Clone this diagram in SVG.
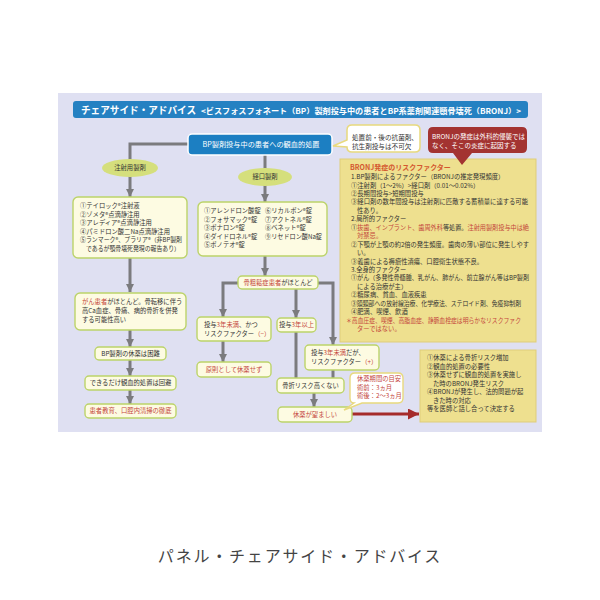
<svg xmlns="http://www.w3.org/2000/svg" width="600" height="600" viewBox="0 0 600 600">
<style>
text{font-family:"Noto Sans CJK JP","Noto Sans",sans-serif;fill:#333;font-size:6.3px}
.bx{fill:#fdfbe2;stroke:#bcd36a;stroke-width:1.4}
.yb{fill:#eee08f;stroke:#dfcd7a;stroke-width:1}
.el{fill:#d5df7c}
.c{fill:none;stroke:#7b7b7e;stroke-width:3}
.ca{fill:none;stroke:#7b7b7e;stroke-width:3;marker-end:url(#ah)}
.r{fill:#c4463c}
.w{fill:#fff}
.m{text-anchor:middle}
</style>
<defs>
<marker id="ah" markerUnits="userSpaceOnUse" markerWidth="9" markerHeight="8" viewBox="0 0 10 10" refX="10" refY="5" orient="auto"><path d="M0,0L10,5L0,10z" fill="#7b7b7e"/></marker>
<marker id="rah" markerUnits="userSpaceOnUse" markerWidth="11" markerHeight="11" viewBox="0 0 10 10" refX="10" refY="5" orient="auto"><path d="M0,0L10,5L0,10z" fill="#a52b2b"/></marker>
</defs>
<rect x="0" y="0" width="600" height="600" fill="#fff"/>
<rect x="58" y="93" width="484" height="339" fill="#dfe0f2"/>
<g id="title">
<rect x="73" y="101" width="455" height="17" rx="3" fill="#2581c2"/>
<text x="81" y="114" style="font-size:10px;font-weight:bold" class="w" textLength="115" lengthAdjust="spacingAndGlyphs">チェアサイド・アドバイス</text>
<text x="201" y="113.5" style="font-size:7.6px;font-weight:bold" class="w" textLength="320" lengthAdjust="spacingAndGlyphs">&lt;ビスフォスフォネート（BP）製剤投与中の患者とBP系薬剤関連顎骨壊死（BRONJ）&gt;</text>
</g>
<g id="connectors">
<path class="ca" d="M188,144H130V197"/>
<path class="ca" d="M265,155V202"/>
<path class="ca" d="M130,258V292"/>
<path class="ca" d="M130,330V347"/>
<path class="ca" d="M130,360V376"/>
<path class="ca" d="M130,390V404"/>
<path class="ca" d="M265,256V276"/>
<path class="ca" d="M238,283H223V317"/>
<path class="ca" d="M296,289V318"/>
<path class="ca" d="M318,283H333V345"/>
<path class="ca" d="M223,341V362"/>
<path class="c" d="M296,332V378"/>
<path class="c" d="M333,370V378"/>
<path class="ca" d="M314,393V407"/>
<path d="M352,414H419" fill="none" stroke="#a52b2b" stroke-width="3" marker-end="url(#rah)"/>
</g>
<g id="top">
<rect x="188" y="134" width="144" height="21" rx="4" fill="#1c7fc2" stroke="#fff" stroke-width="1.5"/>
<text x="261" y="147" class="w m" style="font-size:7.2px">BP製剤投与中の患者への観血的処置</text>
</g>
<g id="bubble1">
<path d="M352,125H415Q420,125 420,130V147Q420,152 415,152H352Q347,152 347,147V147L333,146L347,140V130Q347,125 352,125Z" fill="#fff" stroke="#e8d97e" stroke-width="1.5"/>
<text x="352" y="140" style="font-size:6.6px">処置前・後の抗菌剤、</text>
<text x="352" y="148.5" style="font-size:6.6px">抗生剤投与は不可欠</text>
</g>
<g id="risk">
<rect class="yb" x="340" y="159" width="196" height="183"/>
<text x="350" y="170" style="font-size:7px;font-weight:bold;fill:#d4582f">BRONJ発症のリスクファクター</text>
<text x="351" y="179">1.BP製剤によるファクター（BRONJの推定発現頻度）</text>
<text x="351" y="187.5">①注射剤（1〜2%）&gt;経口剤（0.01〜0.02%）</text>
<text x="351" y="196">②長期間投与&gt;短期間投与</text>
<text x="351" y="204.4" textLength="177" lengthAdjust="spacingAndGlyphs">③経口剤の数年間投与は注射剤に匹敵する蓄積量に達する可能</text>
<text x="357" y="212.8">性あり。</text>
<text x="351" y="221.3">2.局所的ファクター</text>
<text x="351" y="229.7" textLength="178" lengthAdjust="spacingAndGlyphs">①<tspan class="r">抜歯、インプラント、歯周外科</tspan>等処置。<tspan class="r">注射用製剤投与中は絶</tspan></text>
<text x="357" y="238.2" class="r">対禁忌。</text>
<text x="351" y="246.6" textLength="178" lengthAdjust="spacingAndGlyphs">②下顎が上顎の約2倍の発生頻度。歯肉の薄い部位に発生しやす</text>
<text x="357" y="255">い。</text>
<text x="351" y="263.5">③義歯による褥瘡性潰瘍、口腔衛生状態不良。</text>
<text x="351" y="272">3.全身的ファクター</text>
<text x="351" y="280.4" textLength="178" lengthAdjust="spacingAndGlyphs">①がん（多発性骨髄腫、乳がん、肺がん、前立腺がん等はBP製剤</text>
<text x="357" y="288.8">による治療が主）</text>
<text x="351" y="297.3">②糖尿病、貧血、血液疾患</text>
<text x="351" y="305.7" textLength="170" lengthAdjust="spacingAndGlyphs">③頭頸部への放射線治療、化学療法、ステロイド剤、免疫抑制剤</text>
<text x="351" y="314.1">④肥満、喫煙、飲酒</text>
<text x="346" y="322.6" class="r" textLength="175" lengthAdjust="spacingAndGlyphs">＊高血圧症、喫煙、高脂血症、静脈血栓症は明らかなリスクファク</text>
<text x="357" y="331" class="r">ターではない。</text>
</g>
<g id="bubble2">
<path d="M433,127H522Q527,127 527,132V148Q527,153 522,153H472L462,165L453,153H433Q428,153 428,148V132Q428,127 433,127Z" fill="#a33331"/>
<text x="432" y="138.5" class="w" style="font-size:6.5px">BRONJの発症は外科的侵襲では</text>
<text x="432" y="147.5" class="w" style="font-size:6.5px">なく、そこの炎症に起因する</text>
</g>
<g id="inj">
<ellipse class="el" cx="130" cy="168" rx="28" ry="9"/>
<text x="130" y="170.3" class="m">注射用製剤</text>
</g>
<g id="oral">
<ellipse class="el" cx="265" cy="177" rx="27" ry="9"/>
<text x="265" y="179.3" class="m">経口製剤</text>
</g>
<g id="injlist">
<rect class="bx" x="73" y="197" width="114" height="61" rx="5"/>
<text x="80" y="208">①テイロック®注射液</text>
<text x="80" y="216.5">②ゾメタ®点滴静注用</text>
<text x="80" y="225">③アレディア®点滴静注用</text>
<text x="80" y="233.5">④パミドロン酸二Na点滴静注用</text>
<text x="80" y="242" textLength="102" lengthAdjust="spacingAndGlyphs">⑤ランマーク®、プラリア®（非BP製剤</text>
<text x="86" y="250.5" textLength="94" lengthAdjust="spacingAndGlyphs">であるが顎骨壊死発現の報告あり）</text>
</g>
<g id="orallist">
<rect class="bx" x="198" y="202" width="129" height="54" rx="5"/>
<text x="204" y="213">①アレンドロン酸錠</text>
<text x="204" y="221.5">②フォサマック®錠</text>
<text x="204" y="230">③ボナロン®錠</text>
<text x="204" y="238.5">④ダイドロネル®錠</text>
<text x="204" y="247">⑤ボノテオ®錠</text>
<text x="265" y="213">⑥リカルボン®錠</text>
<text x="265" y="221.5">⑦アクトネル®錠</text>
<text x="265" y="230">⑧ベネット®錠</text>
<text x="265" y="238.5" textLength="57" lengthAdjust="spacingAndGlyphs">⑨リセドロン酸Na錠</text>
</g>
<g id="cancer">
<rect class="bx" x="75" y="293" width="111" height="37" rx="5"/>
<text x="82" y="304"><tspan class="r">がん患者</tspan>がほとんど。骨転移に伴う</text>
<text x="82" y="313">高Ca血症、骨痛、病的骨折を併発</text>
<text x="82" y="322">する可能性高い</text>
</g>
<g id="hard">
<rect class="bx" x="95" y="347" width="71" height="13" rx="4"/>
<text x="130.5" y="355.8" class="m">BP製剤の休薬は困難</text>
</g>
<g id="avoid">
<rect class="bx" x="85" y="376" width="91" height="14" rx="4"/>
<text x="130.5" y="385.3" class="m">できるだけ観血的処置は回避</text>
</g>
<g id="edu">
<rect class="bx" x="85" y="404" width="91" height="14" rx="4"/>
<text x="130.5" y="413.3" class="m r">患者教育、口腔内清掃の徹底</text>
</g>
<g id="osteo">
<rect class="bx" x="238" y="276" width="80" height="13" rx="4"/>
<text x="278" y="284.8" class="m"><tspan class="r">骨粗鬆症患者</tspan>がほとんど</text>
</g>
<g id="lt3">
<rect class="bx" x="197" y="317" width="74" height="24" rx="4"/>
<text x="204" y="326.5">投与<tspan class="r">3年未満</tspan>、かつ</text>
<text x="204" y="335.5">リスクファクター<tspan class="r">（−）</tspan></text>
</g>
<g id="ge3">
<rect class="bx" x="277" y="318" width="39" height="14" rx="4"/>
<text x="296.5" y="327.3" class="m">投与<tspan class="r">3年以上</tspan></text>
</g>
<g id="nostop">
<rect class="bx" x="197" y="362" width="74" height="15" rx="4"/>
<text x="234" y="371.8" class="m r">原則として休薬せず</text>
</g>
<g id="lt3plus">
<rect class="bx" x="305" y="345" width="74" height="25" rx="4"/>
<text x="311" y="355">投与<tspan class="r">3年未満</tspan>だが、</text>
<text x="311" y="364">リスクファクター<tspan class="r">（+）</tspan></text>
</g>
<g id="fracture">
<rect class="bx" x="277" y="378" width="67" height="15" rx="4"/>
<text x="310.5" y="387.8" class="m">骨折リスク高くない</text>
</g>
<g id="stop">
<rect class="bx" x="278" y="407" width="74" height="15" rx="4"/>
<text x="315" y="416.8" class="m r">休薬が望ましい</text>
</g>
<g id="period">
<path d="M355,373H398Q403,373 403,378V398Q403,403 398,403H362L344,410L354,403Q350,403 350,398V378Q350,373 355,373Z" fill="#fff" stroke="#e8d97e" stroke-width="1.4"/>
<text x="357" y="381" class="r">休薬期間の目安</text>
<text x="357" y="389.5" class="r">術前：3ヵ月</text>
<text x="357" y="398" class="r">術後：2〜3ヵ月</text>
</g>
<g id="decide">
<rect class="yb" x="420" y="350" width="116" height="72"/>
<text x="427" y="360">①休薬による骨折リスク増加</text>
<text x="427" y="368.5">②観血的処置の必要性</text>
<text x="427" y="377">③休薬せずに観血的処置を実施し</text>
<text x="433" y="385.5">た時のBRONJ発生リスク</text>
<text x="427" y="394">④BRONJが発生し、法的問題が起</text>
<text x="433" y="402.5">きた時の対応</text>
<text x="427" y="411">等を医師と話し合って決定する</text>
</g>
<text x="300" y="562" class="m" style="font-size:16px;fill:#444;letter-spacing:1.8px">パネル・チェアサイド・アドバイス</text>
</svg>
